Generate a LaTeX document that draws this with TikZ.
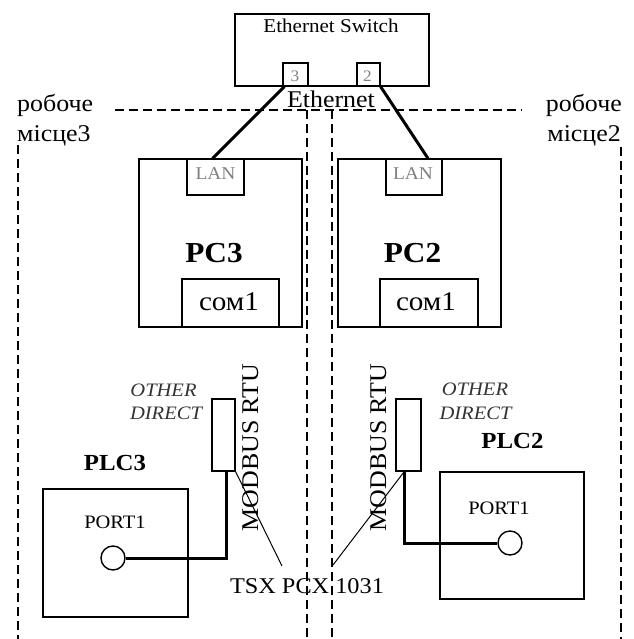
\documentclass[tikz,border=0pt]{standalone}
\usepackage{fontspec}
\setmainfont{Liberation Serif}[FakeStretch=1.08]
\usetikzlibrary{calc}
\newcommand{\fs}[1]{\fontsize{#1}{#1}\selectfont}
\tikzset{
  box/.style={draw, line width=1.4pt, inner sep=0pt, fill=white},
  portbox/.style={draw, line width=1.2pt, inner sep=0pt},
  zone/.style={line width=1.8pt, dash pattern=on 9pt off 5pt},
  cable/.style={line width=3pt},
  lead/.style={line width=1pt},
  lbl/.style={inner sep=0pt, anchor=base},
  greytxt/.style={lbl, text=black!50},
}
\begin{document}
\begin{tikzpicture}[x=1pt, y=-1pt]
\useasboundingbox (0,0) rectangle (633,639);

% workplace zones
\draw[zone] (115,110) -- (522,110);
\draw[zone] (18,145) -- (18,639);
\draw[zone] (307,110) -- (307,639);
\draw[zone] (332,110) -- (332,639);
\draw[zone] (621,147) -- (621,639);

\node[lbl, anchor=base west] (w3a) at (17,112) {\fs{24}робоче};
\node[lbl, anchor=base west] (w3b) at (17,142) {\fs{24}місце3};
\node[lbl, anchor=base east] (w2a) at (622,112) {\fs{24}робоче};
\node[lbl, anchor=base east] (w2b) at (621,142) {\fs{24}місце2};

% switch
\node[box, minimum width=194pt, minimum height=72pt] (sw) at (332,50) {};
\node[lbl] (swt) at (331,33) {\fs{19.5}Ethernet Switch};
\node[portbox, minimum width=25pt, minimum height=23pt] (p3) at (295.5,74.5) {};
\node[portbox, minimum width=23pt, minimum height=23pt] (p2) at (368.5,74.5) {};
\node[greytxt] at (295,82) {\fs{16}3};
\node[greytxt] at (367.5,82) {\fs{16}2};
\node[lbl] (eth) at (331,108) {\fs{24}Ethernet};

% computers
\node[box, minimum width=163pt, minimum height=168pt] (pc3) at (220.5,243) {};
\node[portbox, minimum width=57pt, minimum height=36pt] (lan3) at (215.5,177) {};
\node[greytxt] at (215.5,179) {\fs{18}LAN};
\node[lbl] at (214,262) {\fs{29}\bfseries PC3};
\node[portbox, minimum width=97pt, minimum height=48pt] (com3) at (230.5,303) {};
\node[lbl] at (229,310) {\fs{27}сом1};

\node[box, minimum width=163pt, minimum height=168pt] (pc2) at (419.5,243) {};
\node[portbox, minimum width=56pt, minimum height=36pt] (lan2) at (414,177) {};
\node[greytxt] at (413,179) {\fs{18}LAN};
\node[lbl] at (412.5,262) {\fs{29}\bfseries PC2};
\node[portbox, minimum width=98pt, minimum height=48pt] (com2) at (429,303) {};
\node[lbl] at (426,310) {\fs{27}сом1};

% Ethernet cables
\draw[cable] ($(p3.south west)+(2,0)$) -- ($(lan3.north)+(-3,0)$);
\draw[cable] (p2.south east) -- ($(lan2.north)+(14,0)$);

% converters
\node[portbox, minimum width=23pt, minimum height=72pt] (conv3) at (223.5,435) {};
\node[portbox, minimum width=25pt, minimum height=72pt] (conv2) at (408.5,435) {};

% controllers
\node[box, minimum width=145pt, minimum height=128pt] (plc3) at (115.5,553) {};
\node[box, minimum width=144pt, minimum height=127pt] (plc2) at (512,535.5) {};
\node[lbl] at (115,470) {\fs{23}\bfseries PLC3};
\node[lbl] at (512.5,448) {\fs{23}\bfseries PLC2};
\node[lbl] at (115,528) {\fs{19}PORT1};
\node[lbl] at (499,514) {\fs{19}PORT1};
\node[draw, circle, line width=1.4pt, minimum size=24pt, inner sep=0pt, fill=white] (c3) at (113,558) {};
\node[draw, circle, line width=1.4pt, minimum size=24pt, inner sep=0pt, fill=white] (c2) at (510,543) {};

% serial cables
\draw[cable] ($(conv3.north)+(2.5,0)$) -- ($(conv3.north)+(2.5,0)$ |- com3.south);
\draw[cable] ($(conv3.south)+(2.5,0)$) |- (c3.east);
\draw[cable] ($(conv2.north)+(-4.5,0)$) -- ($(conv2.north)+(-4.5,0)$ |- com2.south);
\draw[cable] ($(conv2.south)+(-4.5,0)$) |- (c2.west);

% cable labels
\node[lbl, text=black!80] at (163.5,396) {\fs{19}\itshape OTHER};
\node[lbl, text=black!80] at (166,419.5) {\fs{19}\itshape DIRECT};
\node[lbl, text=black!80] at (475,395) {\fs{19}\itshape OTHER};
\node[lbl, text=black!80] at (475.5,419) {\fs{19}\itshape DIRECT};
\node[lbl, rotate=90] at (258,447.5) {\fs{24}MODBUS RTU};
\node[lbl, rotate=90] at (386,447.5) {\fs{24}MODBUS RTU};

\node[lbl] (tsx) at (307,593) {\fs{22.5}TSX PCX 1031};
\coordinate (tsxl) at (282,566);
\coordinate (tsxr) at (333,565);
\draw[lead] (conv3.south east) -- (tsxl);
\draw[lead] ($(conv2.south)+(-5,1)$) -- (tsxr);
\end{tikzpicture}
\end{document}
